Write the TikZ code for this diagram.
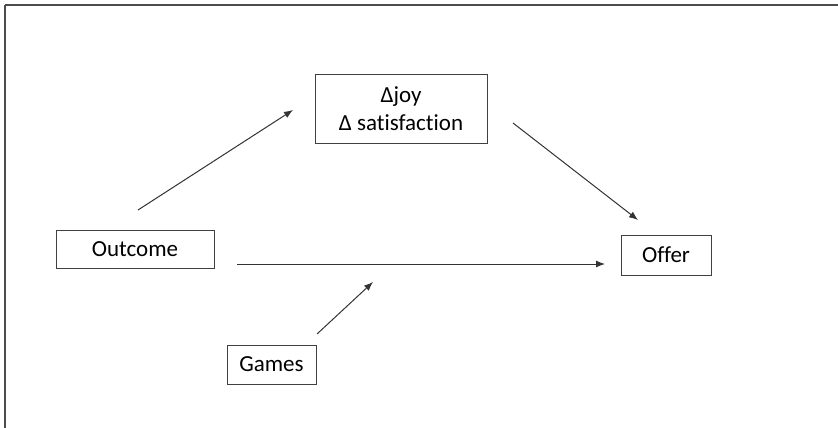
\documentclass[tikz,border=0pt]{standalone}
\usepackage{fontspec}
\setmainfont[Ligatures=NoCommon]{Carlito}
\usepackage{tikz}
\usetikzlibrary{arrows.meta}

\begin{document}
\begin{tikzpicture}[x=1pt, y=-1pt,
		box/.style={draw=black!75, line width=1pt, inner sep=0pt, align=center, font=\fontsize{23}{28}\selectfont},
		link/.style={draw=black!80, line width=1pt, -{Latex[length=9pt,width=7pt]}}]
				\useasboundingbox (0,0) rectangle (838,428);
				\draw[black!70, line width=2pt] (839,5) -- (5,5);
				\draw[black!70, line width=1.3pt] (5,5) -- (5,429);
				
				\node[box, minimum width=172, minimum height=68] (D) at (401,109) {Δjoy\\Δ satisfaction};
				\node[box, minimum width=158, minimum height=38] (O) at (135,249) {Outcome};
				\node[box, minimum width=90, minimum height=40] (F) at (666,255) {Offer};
				\node[box, minimum width=89, minimum height=39] (G) at (271.5,364.5) {Games};
				
				\coordinate (o1) at (138,210);
				\coordinate (d1) at (293,110);
				\coordinate (d2) at (513,123);
				\coordinate (f1) at (638,220);
				\coordinate (o2) at (237,264);
				\coordinate (f2) at (605,264);
				\coordinate (g1) at (317,334);
				\coordinate (m) at (373,282);
				
				\draw[link] (o1) -- (d1);
				\draw[link] (d2) -- (f1);
				\draw[link] (o2) -- (f2);
				\draw[link] (g1) -- (m);
			\end{tikzpicture}
\end{document}
